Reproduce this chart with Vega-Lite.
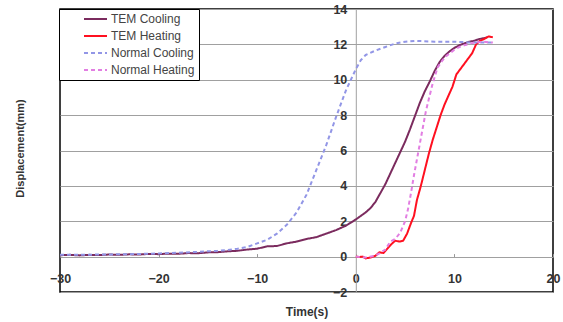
{
  "$schema": "https://vega.github.io/schema/vega-lite/v6.json",
  "width": 493,
  "height": 283,
  "autosize": {"type": "none"},
  "padding": {"left": 60, "top": 9, "right": 10, "bottom": 30},
  "background": "white",
  "config": {
    "view": {"stroke": "#000", "strokeWidth": 1.5},
    "font": "Liberation Sans",
    "axis": {"labelFont": "Liberation Sans", "labelColor": "#333", "titleColor": "#333", "titleFont": "Liberation Sans"}
  },
  "data": {"values": [
    {"t": -30, "d": 0.08, "s": "TEM Cooling"},
    {"t": -29, "d": 0.1, "s": "TEM Cooling"},
    {"t": -28, "d": 0.07, "s": "TEM Cooling"},
    {"t": -27, "d": 0.1, "s": "TEM Cooling"},
    {"t": -26, "d": 0.09, "s": "TEM Cooling"},
    {"t": -25, "d": 0.12, "s": "TEM Cooling"},
    {"t": -24, "d": 0.1, "s": "TEM Cooling"},
    {"t": -23, "d": 0.13, "s": "TEM Cooling"},
    {"t": -22, "d": 0.12, "s": "TEM Cooling"},
    {"t": -21, "d": 0.15, "s": "TEM Cooling"},
    {"t": -20, "d": 0.14, "s": "TEM Cooling"},
    {"t": -19, "d": 0.17, "s": "TEM Cooling"},
    {"t": -18, "d": 0.16, "s": "TEM Cooling"},
    {"t": -17, "d": 0.2, "s": "TEM Cooling"},
    {"t": -16, "d": 0.19, "s": "TEM Cooling"},
    {"t": -15, "d": 0.24, "s": "TEM Cooling"},
    {"t": -14, "d": 0.25, "s": "TEM Cooling"},
    {"t": -13, "d": 0.3, "s": "TEM Cooling"},
    {"t": -12, "d": 0.33, "s": "TEM Cooling"},
    {"t": -11, "d": 0.4, "s": "TEM Cooling"},
    {"t": -10, "d": 0.45, "s": "TEM Cooling"},
    {"t": -9, "d": 0.58, "s": "TEM Cooling"},
    {"t": -8, "d": 0.6, "s": "TEM Cooling"},
    {"t": -7, "d": 0.75, "s": "TEM Cooling"},
    {"t": -6, "d": 0.85, "s": "TEM Cooling"},
    {"t": -5, "d": 1.0, "s": "TEM Cooling"},
    {"t": -4, "d": 1.1, "s": "TEM Cooling"},
    {"t": -3, "d": 1.3, "s": "TEM Cooling"},
    {"t": -2, "d": 1.5, "s": "TEM Cooling"},
    {"t": -1, "d": 1.75, "s": "TEM Cooling"},
    {"t": 0, "d": 2.1, "s": "TEM Cooling"},
    {"t": 0.5, "d": 2.3, "s": "TEM Cooling"},
    {"t": 1, "d": 2.5, "s": "TEM Cooling"},
    {"t": 1.5, "d": 2.75, "s": "TEM Cooling"},
    {"t": 2, "d": 3.1, "s": "TEM Cooling"},
    {"t": 2.5, "d": 3.6, "s": "TEM Cooling"},
    {"t": 3, "d": 4.1, "s": "TEM Cooling"},
    {"t": 3.5, "d": 4.7, "s": "TEM Cooling"},
    {"t": 4, "d": 5.3, "s": "TEM Cooling"},
    {"t": 4.5, "d": 5.9, "s": "TEM Cooling"},
    {"t": 5, "d": 6.5, "s": "TEM Cooling"},
    {"t": 5.5, "d": 7.2, "s": "TEM Cooling"},
    {"t": 6, "d": 7.95, "s": "TEM Cooling"},
    {"t": 6.5, "d": 8.7, "s": "TEM Cooling"},
    {"t": 7, "d": 9.35, "s": "TEM Cooling"},
    {"t": 7.5, "d": 9.9, "s": "TEM Cooling"},
    {"t": 8, "d": 10.5, "s": "TEM Cooling"},
    {"t": 8.5, "d": 11.0, "s": "TEM Cooling"},
    {"t": 9, "d": 11.35, "s": "TEM Cooling"},
    {"t": 9.5, "d": 11.6, "s": "TEM Cooling"},
    {"t": 10, "d": 11.8, "s": "TEM Cooling"},
    {"t": 10.5, "d": 11.95, "s": "TEM Cooling"},
    {"t": 11, "d": 12.05, "s": "TEM Cooling"},
    {"t": 11.5, "d": 12.15, "s": "TEM Cooling"},
    {"t": 12, "d": 12.2, "s": "TEM Cooling"},
    {"t": 12.5, "d": 12.3, "s": "TEM Cooling"},
    {"t": 13, "d": 12.35, "s": "TEM Cooling"},
    {"t": 13.3, "d": 12.4, "s": "TEM Cooling"},

    {"t": 0, "d": 0.0, "s": "TEM Heating"},
    {"t": 0.3, "d": -0.02, "s": "TEM Heating"},
    {"t": 0.7, "d": 0.0, "s": "TEM Heating"},
    {"t": 1, "d": -0.1, "s": "TEM Heating"},
    {"t": 1.5, "d": -0.05, "s": "TEM Heating"},
    {"t": 2, "d": 0.05, "s": "TEM Heating"},
    {"t": 2.4, "d": 0.25, "s": "TEM Heating"},
    {"t": 2.8, "d": 0.2, "s": "TEM Heating"},
    {"t": 3.2, "d": 0.45, "s": "TEM Heating"},
    {"t": 3.6, "d": 0.7, "s": "TEM Heating"},
    {"t": 4, "d": 0.9, "s": "TEM Heating"},
    {"t": 4.4, "d": 0.85, "s": "TEM Heating"},
    {"t": 4.8, "d": 0.9, "s": "TEM Heating"},
    {"t": 5.2, "d": 1.3, "s": "TEM Heating"},
    {"t": 5.6, "d": 1.9, "s": "TEM Heating"},
    {"t": 5.9, "d": 2.3, "s": "TEM Heating"},
    {"t": 6.2, "d": 3.2, "s": "TEM Heating"},
    {"t": 6.6, "d": 4.0, "s": "TEM Heating"},
    {"t": 7, "d": 4.9, "s": "TEM Heating"},
    {"t": 7.4, "d": 5.8, "s": "TEM Heating"},
    {"t": 7.8, "d": 6.6, "s": "TEM Heating"},
    {"t": 8.2, "d": 7.3, "s": "TEM Heating"},
    {"t": 8.6, "d": 8.0, "s": "TEM Heating"},
    {"t": 9, "d": 8.6, "s": "TEM Heating"},
    {"t": 9.4, "d": 9.1, "s": "TEM Heating"},
    {"t": 9.8, "d": 9.6, "s": "TEM Heating"},
    {"t": 10.2, "d": 10.3, "s": "TEM Heating"},
    {"t": 10.6, "d": 10.6, "s": "TEM Heating"},
    {"t": 11, "d": 10.9, "s": "TEM Heating"},
    {"t": 11.4, "d": 11.2, "s": "TEM Heating"},
    {"t": 11.8, "d": 11.5, "s": "TEM Heating"},
    {"t": 12.2, "d": 12.0, "s": "TEM Heating"},
    {"t": 12.6, "d": 12.2, "s": "TEM Heating"},
    {"t": 13, "d": 12.3, "s": "TEM Heating"},
    {"t": 13.5, "d": 12.45, "s": "TEM Heating"},
    {"t": 13.9, "d": 12.4, "s": "TEM Heating"},

    {"t": -30, "d": 0.1, "s": "Normal Cooling"},
    {"t": -28, "d": 0.1, "s": "Normal Cooling"},
    {"t": -26, "d": 0.12, "s": "Normal Cooling"},
    {"t": -24, "d": 0.13, "s": "Normal Cooling"},
    {"t": -22, "d": 0.15, "s": "Normal Cooling"},
    {"t": -20, "d": 0.18, "s": "Normal Cooling"},
    {"t": -18, "d": 0.22, "s": "Normal Cooling"},
    {"t": -16, "d": 0.27, "s": "Normal Cooling"},
    {"t": -14, "d": 0.33, "s": "Normal Cooling"},
    {"t": -13, "d": 0.38, "s": "Normal Cooling"},
    {"t": -12, "d": 0.45, "s": "Normal Cooling"},
    {"t": -11, "d": 0.55, "s": "Normal Cooling"},
    {"t": -10, "d": 0.75, "s": "Normal Cooling"},
    {"t": -9, "d": 0.95, "s": "Normal Cooling"},
    {"t": -8, "d": 1.3, "s": "Normal Cooling"},
    {"t": -7, "d": 1.8, "s": "Normal Cooling"},
    {"t": -6, "d": 2.5, "s": "Normal Cooling"},
    {"t": -5, "d": 3.5, "s": "Normal Cooling"},
    {"t": -4, "d": 4.9, "s": "Normal Cooling"},
    {"t": -3, "d": 6.3, "s": "Normal Cooling"},
    {"t": -2, "d": 7.9, "s": "Normal Cooling"},
    {"t": -1, "d": 9.4, "s": "Normal Cooling"},
    {"t": -0.5, "d": 10.0, "s": "Normal Cooling"},
    {"t": 0, "d": 10.6, "s": "Normal Cooling"},
    {"t": 0.5, "d": 11.1, "s": "Normal Cooling"},
    {"t": 1, "d": 11.4, "s": "Normal Cooling"},
    {"t": 2, "d": 11.65, "s": "Normal Cooling"},
    {"t": 3, "d": 11.85, "s": "Normal Cooling"},
    {"t": 4, "d": 12.05, "s": "Normal Cooling"},
    {"t": 5, "d": 12.15, "s": "Normal Cooling"},
    {"t": 6, "d": 12.2, "s": "Normal Cooling"},
    {"t": 8, "d": 12.15, "s": "Normal Cooling"},
    {"t": 10, "d": 12.15, "s": "Normal Cooling"},
    {"t": 12, "d": 12.1, "s": "Normal Cooling"},
    {"t": 13.9, "d": 12.1, "s": "Normal Cooling"},

    {"t": 0, "d": 0.0, "s": "Normal Heating"},
    {"t": 1, "d": -0.05, "s": "Normal Heating"},
    {"t": 2, "d": 0.05, "s": "Normal Heating"},
    {"t": 3, "d": 0.4, "s": "Normal Heating"},
    {"t": 3.5, "d": 0.85, "s": "Normal Heating"},
    {"t": 4, "d": 1.0, "s": "Normal Heating"},
    {"t": 4.5, "d": 1.35, "s": "Normal Heating"},
    {"t": 5, "d": 2.0, "s": "Normal Heating"},
    {"t": 5.3, "d": 2.7, "s": "Normal Heating"},
    {"t": 5.6, "d": 3.6, "s": "Normal Heating"},
    {"t": 5.9, "d": 4.6, "s": "Normal Heating"},
    {"t": 6.2, "d": 5.5, "s": "Normal Heating"},
    {"t": 6.5, "d": 6.4, "s": "Normal Heating"},
    {"t": 6.8, "d": 7.3, "s": "Normal Heating"},
    {"t": 7.1, "d": 8.2, "s": "Normal Heating"},
    {"t": 7.4, "d": 8.9, "s": "Normal Heating"},
    {"t": 7.8, "d": 9.8, "s": "Normal Heating"},
    {"t": 8.3, "d": 10.7, "s": "Normal Heating"},
    {"t": 8.8, "d": 11.1, "s": "Normal Heating"},
    {"t": 9.2, "d": 11.35, "s": "Normal Heating"},
    {"t": 10, "d": 11.7, "s": "Normal Heating"},
    {"t": 10.5, "d": 11.85, "s": "Normal Heating"},
    {"t": 11, "d": 11.95, "s": "Normal Heating"},
    {"t": 12, "d": 12.1, "s": "Normal Heating"},
    {"t": 13, "d": 12.15, "s": "Normal Heating"},
    {"t": 13.9, "d": 12.1, "s": "Normal Heating"}
  ]},
  "mark": {"type": "line", "strokeJoin": "round"},
  "encoding": {
    "x": {
      "field": "t", "type": "quantitative",
      "scale": {"domain": [-30, 20], "nice": false, "zero": false},
      "axis": {
        "title": "Time(s)", "orient": "bottom", "offset": -35.4,
        "values": [-30, -20, -10, 0, 10, 20],
        "grid": false, "domain": false, "tickSize": -3, "tickColor": "#999",
        "labelPadding": 19, "labelFontSize": 12.5, "labelFontWeight": "bold", "labelFlush": false, "labelOverlap": false, "labelBound": false,
        "titleFontSize": 12, "titleFontWeight": "bold", "titleY": 55, "titleBaseline": "middle"
      }
    },
    "y": {
      "field": "d", "type": "quantitative",
      "scale": {"domain": [-2, 14], "nice": false, "zero": false},
      "axis": {
        "title": "Displacement(mm)", "orient": "left", "offset": -295.8,
        "values": [-2, 0, 2, 4, 6, 8, 10, 12, 14],
        "grid": true, "gridColor": "#a0a0a0", "gridWidth": 1, "gridOpacity": 1,
        "domain": true, "domainColor": "#a0a0a0", "tickSize": 0,
        "labelPadding": 9, "labelFontSize": 12.5, "labelFontWeight": "bold", "labelFlush": false, "labelOverlap": false, "labelBound": false,
        "titleFontSize": 11, "titleFontWeight": "bold", "titleX": -335, "titleY": 139, "titleBaseline": "middle", "titleAngle": -90, "titleAlign": "center"
      }
    },
    "color": {
      "field": "s", "type": "nominal",
      "scale": {"domain": ["TEM Cooling", "TEM Heating", "Normal Cooling", "Normal Heating"], "range": ["#7b2b5e", "#ff1020", "#9296e6", "#e27ee2"]},
      "legend": {
        "title": null, "orient": "none", "legendX": -1, "legendY": 0,
        "fillColor": "white", "strokeColor": "#000", "padding": 4,
        "symbolType": "stroke", "symbolSize": 529, "symbolOffset": 20, "clipHeight": 12, "rowPadding": 5,
        "labelFontSize": 12, "labelColor": "#444", "labelFont": "Liberation Sans", "labelOffset": 3
      }
    },
    "strokeDash": {
      "field": "s", "type": "nominal",
      "scale": {"domain": ["TEM Cooling", "TEM Heating", "Normal Cooling", "Normal Heating"], "range": [[1, 0], [1, 0], [4, 3], [4, 3]]},
      "legend": {
        "title": null, "orient": "none", "legendX": -1, "legendY": 0,
        "fillColor": "white", "strokeColor": "#000", "padding": 4,
        "symbolType": "stroke", "symbolSize": 529, "symbolOffset": 20, "clipHeight": 12, "rowPadding": 5,
        "labelFontSize": 12, "labelColor": "#444", "labelFont": "Liberation Sans", "labelOffset": 3
      }
    },
    "strokeWidth": {
      "field": "s", "type": "nominal",
      "scale": {"domain": ["TEM Cooling", "TEM Heating", "Normal Cooling", "Normal Heating"], "range": [2, 2, 1, 1]},
      "legend": {
        "title": null, "orient": "none", "legendX": -1, "legendY": 0,
        "fillColor": "white", "strokeColor": "#000", "padding": 4,
        "symbolType": "stroke", "symbolSize": 529, "symbolOffset": 20, "clipHeight": 12, "rowPadding": 5,
        "labelFontSize": 12, "labelColor": "#444", "labelFont": "Liberation Sans", "labelOffset": 3
      }
    }
  }
}
